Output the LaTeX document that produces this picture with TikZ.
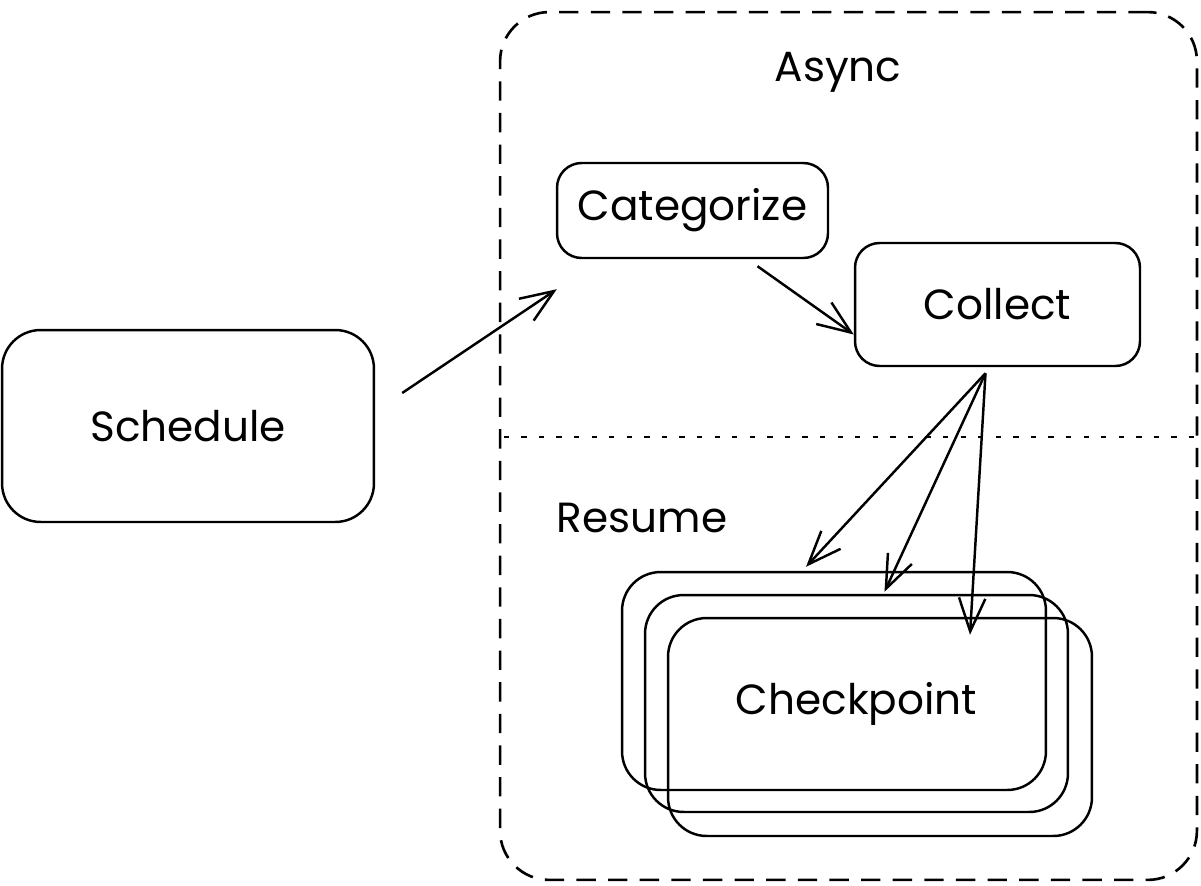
\documentclass[tikz,border=0pt]{standalone}
\usepackage{fontspec}
\setmainfont{Poppins}
\usetikzlibrary{arrows.meta,calc}

\begin{document}
\begin{tikzpicture}[x=0.02cm,y=-0.02cm,
	box/.style={draw,line width=1.4pt,inner sep=0pt,font=\fontsize{24}{28}\selectfont},
	arr/.style={line width=1.4pt,-{Straight Barb[length=19pt,width=15pt]}},
	tag/.style={font=\fontsize{24}{28}\selectfont}]
	\newcommand{\framecolor}{black}

	\useasboundingbox (0,0) rectangle (1201,886);

	% outer dashed frame and its split
	\node[draw=\framecolor,line width=1.5pt,dash pattern=on 11pt off 7pt,rounded corners=28pt,
		minimum width=13.94cm,minimum height=17.36cm] (async) at (848.5,446) {};
	\draw[\framecolor,line width=1.5pt,dash pattern=on 3pt off 7pt]
		($(async.west)+(5,-9)$) -- ($(async.east)+(4,-9)$);
	\node[tag] (asynclbl) at (838,72) {Async};
	\node[tag] (resumelbl) at (642,518) {Resume};

	% boxes
	\node[box,rounded corners=22pt,minimum width=7.44cm,minimum height=3.84cm] (sched) at (188,426) {Schedule};
	\node[box,rounded corners=14pt,minimum width=5.42cm,minimum height=1.9cm] (cat) at (692.5,210.5) {Categorize};
	\node[box,rounded corners=14pt,minimum width=5.7cm,minimum height=2.46cm] (coll) at (997.5,304.5) {Collect};

	% stacked checkpoints
	\node[box,rounded corners=22pt,minimum width=8.48cm,minimum height=4.36cm] (back) at (834,681) {};
	\node[box,rounded corners=22pt,minimum width=8.48cm,minimum height=4.36cm] (front) at (880,727) {};
	\node[box,rounded corners=22pt,minimum width=8.46cm,minimum height=4.34cm] (mid) at (856.5,703.5) {Checkpoint};

	% arrows
	\draw[arr] ($(sched.east)+(27,-33)$) -- ($(cat.south west)+(1,30)$);
	\draw[arr] ($(cat.south)+(65,7)$) -- ($(coll.west)+(0,30)$);
	\draw[arr] ($(coll.south)+(-12,6)$) -- ($(back.north)+(-28,-4)$);
	\draw[arr] ($(coll.south)+(-12,6)$) -- ($(mid.north)+(28,-2)$);
	\draw[arr] ($(coll.south)+(-12,6)$) -- ($(front.north)+(90,18)$);
\end{tikzpicture}
\end{document}
